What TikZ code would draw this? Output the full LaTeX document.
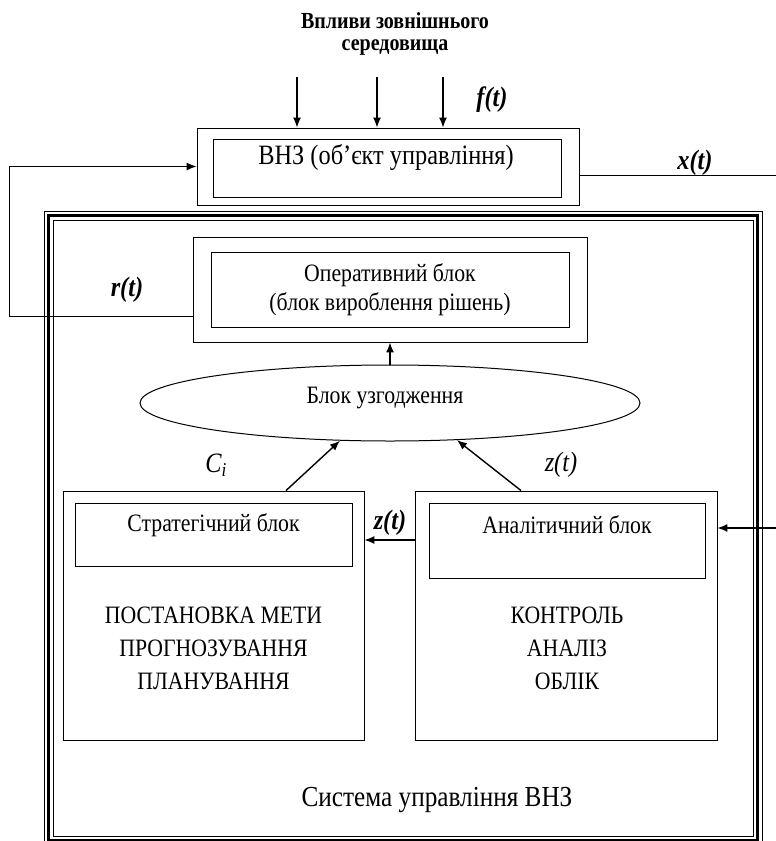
\documentclass[tikz,border=0pt]{standalone}
\usepackage{fontspec}
\setmainfont[FakeStretch=0.87]{Liberation Serif}
\usetikzlibrary{arrows.meta,shapes.geometric}

\tikzset{
  blk/.style={draw,line width=0.9pt,inner sep=0pt},
  conn/.style={line width=1.4pt,-{Latex[length=10pt,width=8pt]}},
  txt/.style={font=\fontsize{25}{29}\selectfont,inner sep=0pt,align=center},
  sig/.style={font=\fontsize{28}{30}\selectfont\bfseries\itshape,inner sep=0pt},
  sigi/.style={font=\fontsize{28}{30}\selectfont\itshape,inner sep=0pt},
}

\begin{document}
\begin{tikzpicture}[x=1pt,y=-1pt]
  \useasboundingbox (0,0) rectangle (776,841);
  % system frame
  \draw[line width=0.9pt] (44,211) rectangle (762,845);
  \draw[line width=3pt] (48.5,215.5) rectangle (757.5,840.5);
  \draw[line width=0.9pt] (53,220) rectangle (753,836);

  \node[txt,font=\fontsize{23}{22}\selectfont\bfseries] (env) at (395,34) {Впливи зовнішнього\\середовища};

  \node[blk,minimum width=382,minimum height=77] (vnz) at (388,166.5) {};
  \node[blk,minimum width=348,minimum height=58] (vnzin) at (387,168) {};
  \node[txt,font=\fontsize{28}{30}\selectfont] (vnzt) at (386,157) {ВНЗ (об’єкт управління)};

  \node[blk,minimum width=394,minimum height=105] (oper) at (390,289.5) {};
  \node[blk,txt,minimum width=358,minimum height=75] (operin) at (390,289.5) {Оперативний блок\\(блок вироблення рішень)};

  \node[blk,ellipse,line width=1pt,minimum width=500,minimum height=76] (agree) at (390,403) {};
  \node[txt] (agreet) at (385,398) {Блок узгодження};

  \node[blk,minimum width=301,minimum height=249] (strat) at (213.5,615.5) {};
  \node[blk,minimum width=277,minimum height=63] (stratin) at (213.5,534.5) {};
  \node[txt] (stratt) at (213.5,525) {Стратегічний блок};
  \node[txt] (s1) at (213.5,615) {ПОСТАНОВКА МЕТИ};
  \node[txt] (s2) at (213.5,648) {ПРОГНОЗУВАННЯ};
  \node[txt] (s3) at (213.5,681) {ПЛАНУВАННЯ};

  \node[blk,minimum width=302,minimum height=249] (anal) at (566,615.5) {};
  \node[blk,minimum width=276,minimum height=75] (analin) at (567,540.5) {};
  \node[txt] (analt) at (567,525) {Аналітичний блок};
  \node[txt] (a1) at (567,615) {КОНТРОЛЬ};
  \node[txt] (a2) at (567,648) {АНАЛІЗ};
  \node[txt] (a3) at (567,681) {ОБЛІК};

  \node[txt,font=\fontsize{29}{32}\selectfont] (sys) at (437,800) {Система управління ВНЗ};

  \foreach \x [count=\i] in {297,377,443}
    \coordinate (in\i) at (\x,77);
  \foreach \i in {1,2,3}
    \draw[conn] (in\i) -- (in\i |- vnz.north);
  \coordinate (xout) at (776,175);
  \coordinate (ain) at (776,528);

  \draw[line width=1pt] ([yshift=-8.5pt]vnz.east) -- (xout);
  \draw[conn,line width=1.1pt] ([yshift=26pt]oper.south west) -- ++(-183,0) |- (vnz.west);
  \draw[conn] (agree.north) -- (oper.south);
  \draw[conn] ([xshift=72.5pt]strat.north) -- (agree.217);
  \draw[conn] ([xshift=-45pt]anal.north) -- (agree.331);
  \draw[conn] ([yshift=75.5pt]anal.west) -- ([yshift=75.5pt]strat.east);
  \draw[conn] (ain) -- (anal.east |- ain);

  \node[sig] (f) at (492,100) {f(t)};
  \node[sig] (x) at (695,163) {x(t)};
  \node[sig] (r) at (127,290) {r(t)};
  \node[sigi] (c) at (216,465) {C\textsubscript{i}};
  \node[sigi] (z1) at (561,465) {z(t)};
  \node[sig] (z2) at (390,523) {z(t)};
\end{tikzpicture}
\end{document}
